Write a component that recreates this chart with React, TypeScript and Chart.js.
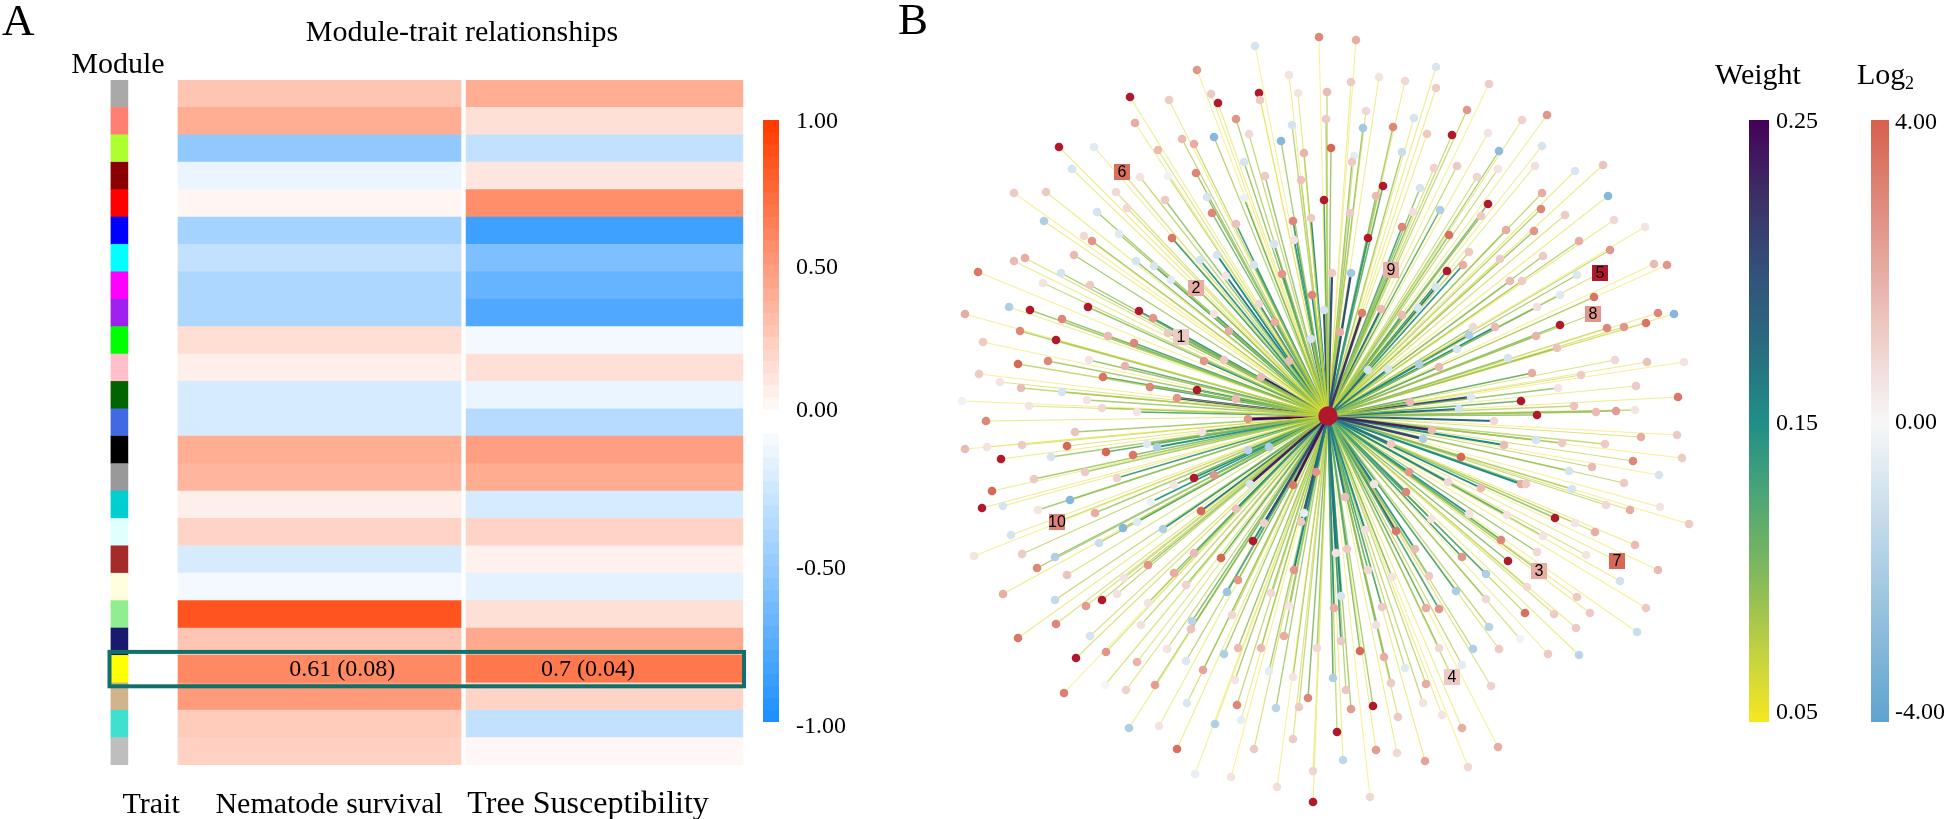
import React, { useEffect, useRef } from "react";
import { Chart, registerables } from "chart.js";

Chart.register(...registerables);

const SERIF = '"Liberation Serif", "Times New Roman", serif';
const SANS = '"Liberation Sans", Arial, sans-serif';

// ---------- Panel A data ----------
const modules = ["darkgrey", "salmon", "greenyellow", "darkred", "red", "blue", "cyan", "magenta", "purple", "green", "pink", "darkgreen", "royalblue", "black", "grey60", "darkturquoise", "lightcyan", "brown", "lightyellow", "lightgreen", "midnightblue", "yellow", "tan", "turquoise", "grey"];
const moduleColors = ["#a9a9a9", "#ff8072", "#adff2f", "#8b0000", "#ff0000", "#0000ff", "#00ffff", "#ff00ff", "#a020f0", "#00ff00", "#ffc0cb", "#006400", "#4169e1", "#000000", "#999999", "#00ced1", "#e0ffff", "#a52a2a", "#ffffe0", "#90ee90", "#191970", "#ffff00", "#d2b48c", "#40e0d0", "#bebebe"];
const nematodeSurvival = [0.3, 0.42, -0.49, -0.09, 0.05, -0.4, -0.27, -0.36, -0.36, 0.17, 0.08, -0.18, -0.18, 0.42, 0.38, 0.08, 0.22, -0.18, -0.05, 0.88, 0.3, 0.61, 0.52, 0.27, 0.23];
const treeSusceptibility = [0.42, 0.16, -0.27, 0.13, 0.58, -0.86, -0.58, -0.68, -0.78, -0.05, 0.16, -0.09, -0.32, 0.5, 0.43, -0.18, 0.22, 0.07, -0.12, 0.16, 0.44, 0.7, 0.22, -0.27, 0.04];
const traitLabels = ["Trait", "Nematode survival", "Tree Susceptibility"];
const highlightedModule = "yellow";
const highlightedTexts = ["0.61 (0.08)", "0.7 (0.04)"];
const corrTicks = ["1.00", "0.50", "0.00", "-0.50", "-1.00"];
const weightTicks = ["0.25", "0.15", "0.05"];
const logTicks = ["4.00", "0.00", "-4.00"];

// ---------- Panel B data: [x, y, log2, weight] in layout units, hub at 0,0 ----------
const nodesWest: number[][] = [
  [-269,-269,6,.06],[-314,-223,1.2,.055],[-282,-224,1.2,.06],[-284,-195,-1.9,.06],[-303,-158,2,.07],[-314,-155,1.6,.06],
  [-350,-144,3.4,.055],[-267,-143,-.9,.09],[-285,-133,.5,.08],[-319,-109,-1.9,.06],[-298,-106,6,.09],[-266,-97,3,.095],
  [-363,-102,2,.055],[-308,-85,3,.085],[-272,-76,6,.09],[-345,-74,1.2,.055],[-280,-55,3,.09],[-310,-52,3.8,.08],
  [-349,-42,1.2,.055],[-328,-34,.5,.07],[-307,-28,1.6,.08],[-266,-24,-.9,.09],[-366,-15,-.2,.055],[-299,-10,.5,.07],
  [-342,5,3,.065],[-306,29,1.2,.07],[-341,31,.5,.06],[-363,33,1.6,.055],[-261,30,3.8,.07],[-277,41,-.9,.09],
  [-327,43,6,.06],[-294,63,1.2,.09],[-336,75,3.8,.06],[-346,92,6,.06],[-325,90,-.9,.06],[-290,94,.5,.09],
  [-258,84,-3,.09],[-317,119,-.9,.06],[-354,140,.5,.055],[-306,138,1.2,.08],[-273,141,-1.9,.095],[-291,152,3,.09],
  [-261,159,1.4,.07],[-325,178,2,.06],[-273,184,-1.4,.08],[-272,208,3,.07],[-310,222,3.4,.06],
];
const nodesNorthWest: number[][] = [
  [-256,-247,-.9,.06],[-234,-269,-.6,.06],[-198,-319,6,.06],[-193,-293,2,.06],[-159,-316,1.2,.06],[-170,-266,1.6,.07],
  [-146,-277,1.6,.08],[-134,-272,2,.08],[-131,-346,2.6,.055],[-117,-322,1.2,.06],[-110,-313,6,.06],[-114,-279,-3,.085],
  [-132,-243,3,.095],[-92,-297,2.6,.085],[-73,-370,-.9,.055],[-69,-323,6,.06],[-68,-316,1.2,.06],[-79,-282,.8,.08],
  [-47,-275,-3,.09],[-39,-341,.5,.06],[-30,-323,.5,.065],[-36,-291,-.9,.085],[-24,-263,1.8,.09],[-9,-379,3,.055],
  [-1,-324,1.6,.08],[-2,-297,1.2,.085],[3,-268,3.8,.095],[-4,-216,6,.12],[-27,-236,1.4,.09],[-63,-240,1.2,.095],
  [-84,-254,-.9,.095],[-84,-218,-.3,.11],[-121,-219,-.9,.1],[-116,-203,3,.105],[-92,-192,1.4,.13],[-35,-195,3,.13],
  [-17,-198,1.2,.15],[-34,-176,.5,.15],[-54,-172,-.9,.12],[-188,-239,.5,.08],[-160,-240,-.2,.08],[-212,-224,.8,.07],
  [-201,-208,.8,.07],[-163,-216,1.2,.095],[-231,-204,-.9,.09],[-209,-182,-.6,.09],[-244,-180,.8,.06],[-236,-175,2.6,.095],
  [-156,-178,3.4,.14],[-254,-161,1.6,.09],[-192,-155,-.9,.1],[-174,-150,-.9,.12],[-128,-156,-.9,.14],[-111,-161,-.9,.15],
  [-74,-151,-.9,.14],[-102,-140,.5,.16],[-46,-142,2.6,.15],[-157,-136,-.6,.1],[4,-143,1.2,.2],[23,-143,-2.2,.2],
  [-238,-131,1.2,.095],[-16,-121,3,.15],[-240,-109,6,.095],[-189,-105,6,.14],[-175,-98,2.6,.12],[-4,-106,-.9,.2],
  [34,-103,3.2,.22],[-69,-112,.8,.165],[-114,-102,.5,.14],[-53,-94,2,.14],[-99,-85,2,.12],[12,-84,2,.1],
  [-17,-77,-.9,.17],[-220,-80,1.6,.1],[-160,-83,1.2,.11],
];
const nodesInnerWest: number[][] = [
  [-194,-73,3,.12],[-239,-56,.5,.095],[-203,-50,1.8,.11],[-225,-39,3.5,.12],[-178,-29,3,.13],[-131,-26,6,.15],
  [-151,-18,2.6,.2],[-124,-55,2.6,.15],[-104,-56,1.2,.13],[-67,-39,1.6,.24],[-92,-17,1.6,.15],[-39,-55,1.6,.17],
  [40,-46,-.9,.17],[-241,-16,.5,.09],[-226,-8,.8,.095],[-191,-4,.5,.12],[-80,3,2.6,.25],[-253,16,1.4,.09],
  [-126,16,.5,.16],[-181,28,-.6,.11],[-171,31,-1.9,.14],[-80,34,-1.6,.13],[-59,31,-1.9,.11],[-222,36,3.8,.11],
  [-195,39,3.4,.1],[-243,56,1.2,.09],[-211,62,1,.13],[-134,62,6,.15],[-114,59,2.6,.15],[-154,69,.5,.11],
  [-78,68,-.9,.23],[-12,56,2.6,.16],[-35,69,3.4,.24],[17,81,1.5,.165],[-177,86,-.3,.14],[-233,97,2,.09],
  [-92,93,1.4,.14],[-127,95,3.8,.165],[-24,97,-.5,.19],[-27,106,1.2,.165],[-64,107,1,.2],[37,114,.6,.15],
  [-191,106,-.6,.12],[-205,112,-3,.095],[-165,113,-1.9,.14],[-229,127,-1.2,.09],[-75,125,6,.15],[-134,137,1.6,.12],
  [-107,142,3.8,.11],[8,137,.5,.17],[19,133,1.2,.12],[-180,149,2.6,.095],[-154,157,2,.1],[-34,154,2.6,.155],
  [40,154,.8,.11],[-204,162,.5,.08],[-142,169,1,.09],[-90,164,2.6,.1],[-101,176,-2.4,.12],[-57,177,.8,.09],
  [13,180,-.9,.155],[-226,184,6,.08],[-211,178,.6,.08],[-242,190,2.4,.07],[-180,187,.5,.09],[-39,190,.5,.09],
  [6,192,2,.14],[-96,199,.8,.08],[-136,205,-1.6,.1],[-137,213,1.4,.1],[-187,209,.6,.08],[-238,220,-.9,.07],
  [-44,220,2,.09],[13,225,1.2,.13],[-222,236,2.6,.07],[-161,233,.5,.08],[-90,232,1.6,.095],[-67,232,1.6,.09],
  [-11,232,.8,.09],[32,235,3.8,.1],[-104,238,-1.9,.09],[-252,242,6,.07],
];
const nodesSouth: number[][] = [
  [-264,277,3.2,.055],[-191,246,1.8,.07],[-142,245,-.7,.085],[-125,254,2.2,.09],[-223,269,-.1,.07],[-202,274,1,.07],
  [-173,269,2.4,.085],[-199,312,-1.9,.06],[-169,310,.5,.06],[-141,287,-.8,.075],[-113,308,-1.9,.06],[-151,333,3.6,.06],
  [-133,358,-.4,.055],[-97,361,.5,.055],[-93,264,.5,.09],[-91,289,3,.08],[-87,304,-.4,.06],[-74,333,1.2,.07],
  [-59,255,-.5,.09],[-52,292,-1.6,.09],[-51,371,.7,.055],[-35,261,.5,.09],[-29,291,1.2,.08],[-35,323,1.2,.07],
  [-20,282,3,.1],[-15,355,.9,.06],[-15,386,6,.06],[5,262,-1.9,.11],[9,316,6,.08],[15,344,-1.5,.06],
  [18,274,1.3,.085],[23,293,2.4,.09],[42,381,.8,.055],[45,290,6,.09],[48,334,2.4,.06],[56,241,2,.095],
  [63,267,1.2,.09],[54,191,1.2,.12],[48,209,.6,.1],[64,161,.5,.1],[70,301,1.2,.07],[69,337,.8,.06],
  [77,252,-.6,.08],[95,287,.5,.08],[97,345,2.2,.06],[98,268,2,.08],[111,232,.8,.09],[114,299,.5,.06],
  [98,192,2,.11],[111,193,2.6,.12],[101,160,1.2,.095],[128,175,-2,.12],[158,158,-1.9,.12],[158,183,.8,.09],
  [161,211,-1.7,.08],[145,233,-1.9,.08],[134,249,-.5,.08],[171,233,1.2,.07],[163,270,1,.07],[134,312,2,.06],
  [140,351,.8,.055],[170,331,2,.055],
];
const nodesSouthEast: number[][] = [
  [208,-80,1.8,.09],[229,-68,1.4,.09],[287,-56,.8,.07],[319,-54,1.4,.06],[253,-41,1.2,.07],[204,-43,2,.11],
  [180,-58,-.9,.095],[230,-28,.5,.095],[308,-30,1.2,.06],[193,-15,6,.11],[143,-19,-.6,.2],[129,-67,-.9,.095],
  [111,-49,1.6,.11],[91,-52,-1.9,.155],[60,-47,-.9,.16],[82,-14,1.6,.16],[131,-7,-.9,.17],[209,-1,6,.095],
  [246,-10,1.4,.08],[268,-4,1.6,.09],[288,-5,2.4,.09],[307,-6,.5,.08],[166,5,.8,.18],[104,14,1.6,.23],
  [95,23,-1.9,.21],[63,28,1.2,.17],[208,24,-.9,.09],[234,27,1.2,.09],[277,28,1.2,.08],[313,21,2,.07],
  [176,29,1.6,.155],[133,41,3.8,.1],[305,45,3,.075],[241,55,-.9,.09],[264,51,1.6,.08],[296,67,1.2,.08],
  [331,59,-.9,.055],[81,56,2.6,.14],[46,68,.5,.16],[78,76,3,.14],[120,66,.8,.155],[153,72,1.6,.15],
  [193,68,2,.15],[198,68,1.2,.095],[244,73,-.9,.085],[278,89,.8,.08],[302,94,2,.07],[332,91,.5,.055],
  [141,98,.5,.14],[179,99,.5,.11],[227,102,6,.095],[247,107,.5,.08],[267,116,2,.075],[103,103,.5,.12],
  [68,115,3.4,.2],[87,133,1.6,.14],[173,124,3,.11],[215,120,.5,.09],[307,129,1.6,.06],[209,136,.8,.095],
  [134,141,2.6,.13],[180,145,6,.1],[258,139,.5,.07],[330,154,1.6,.055],[292,165,-1,.06],[199,171,.8,.08],
  [249,181,1.2,.06],[226,198,1.2,.07],[262,197,1.2,.06],[197,197,3.6,.08],[318,192,1.2,.055],[248,212,1.2,.06],
  [309,216,-1.2,.055],[192,223,-.2,.07],[220,238,1.2,.06],[251,239,-1.6,.06],
];
const nodesNorthEast: number[][] = [
  [28,-376,2,.055],[23,-334,1.2,.06],[38,-305,.8,.07],[35,-288,-2.2,.095],[26,-260,-.5,.07],[24,-254,1.2,.095],
  [22,-203,1.2,.095],[40,-178,6,.14],[139,-306,2.6,.08],[65,-289,3,.09],[86,-298,-.9,.06],[99,-282,1.2,.06],
  [124,-281,6,.08],[194,-296,1,.065],[219,-301,2.6,.06],[160,-283,.5,.06],[171,-265,-2.8,.09],[214,-270,-.9,.06],
  [74,-264,-1.2,.09],[55,-230,6,.11],[48,-220,1.6,.1],[92,-228,-.9,.095],[106,-248,1,.07],[129,-250,1.2,.08],
  [149,-239,.9,.075],[170,-247,.5,.08],[207,-250,.6,.065],[247,-245,-.8,.06],[275,-251,1.4,.06],[112,-206,-1.9,.11],
  [85,-204,.6,.1],[160,-212,6,.1],[153,-200,1.2,.095],[214,-223,2,.08],[213,-207,3,.085],[280,-220,-3,.06],
  [237,-201,1.2,.07],[286,-196,.8,.06],[317,-189,.5,.055],[74,-189,3,.12],[121,-181,3.6,.095],[178,-186,2,.095],
  [206,-185,2.6,.095],[251,-175,2,.085],[282,-166,2.6,.08],[141,-164,1.2,.08],[172,-157,1.2,.07],[215,-160,1.2,.09],
  [135,-151,2,.14],[119,-145,6,.15],[182,-135,1.6,.1],[194,-135,1.2,.075],[249,-141,-.7,.09],[326,-152,1.6,.055],
  [108,-129,-.9,.165],[232,-121,-.6,.095],[266,-119,3.5,.09],[209,-109,.6,.1],[53,-107,1.6,.17],[74,-101,1.6,.15],
  [90,-108,-.9,.16],[232,-91,6,.095],[330,-103,3,.06],[318,-93,3.5,.07],[296,-89,2.6,.075],[279,-88,3,.08],
  [145,-89,.8,.095],[167,-89,1.6,.15],[141,-81,-1.9,.155],[339,-151,2.6,.055],[346,-102,-3,.06],[356,-54,.5,.055],
  [350,-19,3.4,.06],[349,19,1.2,.055],[354,42,1.2,.055],[361,108,1.2,.055],[51,-339,.5,.06],[77,-335,.8,.06],
  [108,-349,-.8,.06],[108,-328,1.1,.06],[161,-332,1.1,.055],
];
const labelledNodes: number[][] = [
  [-147,-79,1.2,.13],[-132,-128,2,.11],[211,155,2,.095],[124,261,1.2,.08],[272,-143,6,.07],
  [-206,-244,3.6,.07],[289,145,3.8,.06],[265,-102,2.6,.08],[63,-146,1.9,.14],[-271,106,3.1,.08],
];
const labelledNames = ["1", "2", "3", "4", "5", "6", "7", "8", "9", "10"];
const hubNode = [0, 0];

const allNodes = [...nodesWest, ...nodesNorthWest, ...nodesInnerWest, ...nodesSouth, ...nodesSouthEast, ...nodesNorthEast];

// ---------- colour helpers ----------
const corrColor = (v: number) => {
  const a = Math.abs(v);
  if (a < 0.001) return "#ffffff";
  const c = v > 0
    ? [255, 255 - 194 * a, 255 - 255 * a]
    : [255 - 225 * a, 255 - 111 * a, 255];
  return `rgb(${c.map(Math.round).join(",")})`;
};
const mix = (a: number[], b: number[], t: number) => a.map((x, i) => x + (b[i] - x) * t);
const HOT = [214, 96, 77], MID = [247, 247, 247], COLD = [95, 163, 207];
const logColor = (v: number) => {
  if (v > 4) return "#b2182b";
  const c = v >= 0 ? mix(MID, HOT, v / 4) : mix(MID, COLD, -v / 4);
  return `rgb(${c.map(Math.round).join(",")})`;
};
const weightStops: [number, number[]][] = [
  [0.05, [247, 231, 33]], [0.07, [201, 212, 60]], [0.1, [128, 184, 93]], [0.125, [77, 165, 119]],
  [0.15, [31, 142, 135]], [0.175, [42, 107, 128]], [0.2, [51, 80, 122]], [0.225, [61, 47, 102]], [0.25, [68, 1, 90]],
];
const weightRgb = (w: number) => {
  for (let i = 1; i < weightStops.length; i++) {
    if (w <= weightStops[i][0]) {
      const [a, ca] = weightStops[i - 1], [b, cb] = weightStops[i];
      return mix(ca, cb, Math.max(0, (w - a) / (b - a))).map(Math.round);
    }
  }
  return weightStops[weightStops.length - 1][1];
};

// ---------- shared bits ----------
type TextItem = { text: string; x: number; y: number; size: number; align?: CanvasTextAlign; family?: string };
const textPlugin = (items: TextItem[]) => ({
  id: "pageText",
  afterDraw(chart: any) {
    const { ctx } = chart;
    ctx.save();
    ctx.fillStyle = "#000";
    ctx.textBaseline = "alphabetic";
    items.forEach((t) => {
      ctx.font = `${t.size}px ${t.family || SERIF}`;
      ctx.textAlign = t.align || "left";
      ctx.fillText(t.text, t.x, t.y);
    });
    ctx.restore();
  },
});
const baseOptions = {
  responsive: false,
  animation: false,
  devicePixelRatio: 1,
};
const quietPlugins = { legend: { display: false }, tooltip: { enabled: false }, title: { display: false } };

function ChartCanvas({ left, top, width, height, make }: any) {
  const ref = useRef<HTMLCanvasElement>(null);
  useEffect(() => {
    const chart = new Chart(ref.current as any, make());
    return () => chart.destroy();
  }, []);
  return <canvas ref={ref} width={width} height={height} style={{ position: "absolute", left, top, width, height }} />;
}

// ---------- Panel A heat map ----------
const PX_PER_CELL = 283;
const COL1 = [0, 1];
const COL2 = [1.018, 1.996];
const STRIP = [-0.237, -0.177];
const TRAIT_TICKS = [-0.095, 0.534, 1.449];
const CELL_TEXT_X = [0.58, 1.449];

const makeHeat = () => ({
  type: "bar",
  data: {
    labels: modules,
    datasets: [
      { label: "Module", data: modules.map(() => STRIP), backgroundColor: moduleColors },
      { label: traitLabels[1], data: modules.map(() => COL1), backgroundColor: nematodeSurvival.map(corrColor) },
      { label: traitLabels[2], data: modules.map(() => COL2), backgroundColor: treeSusceptibility.map(corrColor) },
    ],
  },
  options: {
    ...baseOptions,
    indexAxis: "y",
    layout: { padding: { left: 107, right: 24, top: 80, bottom: 0 } },
    datasets: { bar: { grouped: false, barPercentage: 1, categoryPercentage: 1, borderWidth: 0 } },
    scales: {
      x: {
        type: "linear",
        min: -71 / PX_PER_CELL,
        max: (746 - 178) / PX_PER_CELL,
        grid: { display: false, drawTicks: false },
        border: { display: false },
        afterFit: (s: any) => { s.height = 54; },
        afterBuildTicks: (s: any) => { s.ticks = TRAIT_TICKS.map((value) => ({ value })); },
        ticks: {
          autoSkip: false, maxRotation: 0, padding: 22, color: "#000",
          font: (ctx: any) => ctx.index === 2
            ? { family: SERIF, size: 32, lineHeight: 36 / 32 }
            : { family: SERIF, size: 30, lineHeight: 36 / 30 },
          callback: (_: any, i: number) => traitLabels[i],
        },
      },
      y: { type: "category", display: false },
    },
    plugins: quietPlugins,
  },
  plugins: [
    textPlugin([
      { text: "A", x: 2, y: 35, size: 45 },
      { text: "Module-trait relationships", x: 462, y: 41, size: 30, align: "center" },
      { text: "Module", x: 118, y: 73, size: 30, align: "center" },
    ]),
    {
      id: "highlight",
      afterDatasetsDraw(chart: any) {
        const { ctx, scales } = chart;
        const rowY = scales.y.getPixelForValue(modules.indexOf(highlightedModule));
        const half = 27.4 / 2 + 3.5;
        ctx.save();
        ctx.strokeStyle = "#11706a";
        ctx.lineWidth = 4;
        ctx.strokeRect(109.5, rowY - half, 744 - 109.5, half * 2);
        ctx.fillStyle = "#000";
        ctx.font = `24px ${SERIF}`;
        ctx.textAlign = "center";
        ctx.textBaseline = "middle";
        highlightedTexts.forEach((t, i) => ctx.fillText(t, scales.x.getPixelForValue(CELL_TEXT_X[i]), rowY + 1));
        ctx.restore();
      },
    },
  ],
});

// ---------- colour bars ----------
const axisFor = (ticks: number[], labels: string[], width: number, gap: number, min: number, max: number) => ({
  type: "linear",
  position: "right",
  min,
  max,
  grid: { display: false, drawTicks: false },
  border: { display: false },
  afterFit: (s: any) => { s.width = width; },
  afterBuildTicks: (s: any) => { s.ticks = ticks.map((value) => ({ value })); },
  ticks: {
    autoSkip: false, padding: gap, color: "#000",
    font: { family: SERIF, size: 24 },
    callback: (_: any, i: number) => labels[i],
  },
});

const CORR_TICK_AT = [0.995, 0.51, 0.033, -0.49, -1.017];
const corrLevels: number[] = [];
for (let i = 0; i < 50; i++) corrLevels.push(i);

const makeCorrBar = () => ({
  type: "bar",
  data: {
    labels: ["correlation"],
    datasets: corrLevels.map((i) => {
      const v = i < 25 ? (24 - i) / 24 : -(i - 25) / 24;
      return { label: `l${i}`, data: [[1 - i * 0.04, 1 - (i + 1) * 0.04]], backgroundColor: corrColor(v) };
    }),
  },
  options: {
    ...baseOptions,
    layout: { padding: { left: 8, right: 0, top: 80, bottom: 97 } },
    datasets: { bar: { grouped: false, barPercentage: 1, categoryPercentage: 1, borderWidth: 0 } },
    scales: {
      x: { display: false },
      y: axisFor(CORR_TICK_AT, corrTicks, 81, 17, -1, 1),
    },
    plugins: quietPlugins,
  },
});

const gradientBar = (stops: [number, string][], min: number, max: number) => (ctx: any) => {
  const area = ctx.chart.chartArea;
  if (!area) return "#fff";
  const g = ctx.chart.ctx.createLinearGradient(0, area.bottom, 0, area.top);
  stops.forEach(([v, c]) => g.addColorStop((v - min) / (max - min), c));
  return g;
};

const makeWeightBar = () => ({
  type: "bar",
  data: {
    labels: ["Weight"],
    datasets: [{
      data: [[0.05, 0.25]],
      backgroundColor: gradientBar(weightStops.map(([v, c]) => [v, `rgb(${c.join(",")})`] as [number, string]), 0.05, 0.25),
    }],
  },
  options: {
    ...baseOptions,
    layout: { padding: { left: 49, right: 0, top: 80, bottom: 97 } },
    datasets: { bar: { barPercentage: 1, categoryPercentage: 1, borderWidth: 0 } },
    scales: {
      x: { display: false },
      y: axisFor([0.2493, 0.149, 0.053], weightTicks, 61, 7, 0.05, 0.25),
    },
    plugins: quietPlugins,
  },
  plugins: [textPlugin([{ text: "Weight", x: 15, y: 43.5, size: 30 }])],
});

const makeLogBar = () => ({
  type: "bar",
  data: {
    labels: ["Log2"],
    datasets: [{
      data: [[-4, 4]],
      backgroundColor: gradientBar([[-4, logColor(-4)], [0, logColor(0)], [4, logColor(4)]], -4, 4),
    }],
  },
  options: {
    ...baseOptions,
    layout: { padding: { left: 21, right: 0, top: 80, bottom: 97 } },
    datasets: { bar: { barPercentage: 1, categoryPercentage: 1, borderWidth: 0 } },
    scales: {
      x: { display: false },
      y: axisFor([3.97, -0.02, -3.88], logTicks, 57, 6, -4, 4),
    },
    plugins: quietPlugins,
  },
  plugins: [textPlugin([
    { text: "Log", x: 7, y: 43.5, size: 30 },
    { text: "2", x: 55, y: 49, size: 18 },
  ])],
});

// ---------- Panel B network ----------
const edgeDataset = (n: number[]) => {
  const w = n[3];
  const alpha = Math.min(1, 0.45 + (w - 0.05) * 9);
  return {
    type: "scatter",
    showLine: true,
    data: [{ x: hubNode[0], y: hubNode[1] }, { x: n[0], y: n[1] }],
    borderColor: `rgba(${weightRgb(w).join(",")},${alpha})`,
    borderWidth: 1 + (w - 0.05) * 9,
    pointRadius: 0,
    order: 1,
  };
};

const makeNetwork = () => {
  const everyNode = [...allNodes, ...labelledNodes];
  return {
    type: "scatter",
    data: {
      datasets: [
        ...everyNode.map(edgeDataset),
        {
          label: "nodes",
          data: allNodes.map((n) => ({ x: n[0], y: n[1] })),
          backgroundColor: allNodes.map((n) => logColor(n[2])),
          pointRadius: 4.3,
          borderWidth: 0,
          order: 0,
        },
        {
          label: "labelled",
          data: labelledNodes.map((n) => ({ x: n[0], y: n[1] })),
          backgroundColor: labelledNodes.map((n) => logColor(n[2])),
          pointStyle: "rect",
          pointRadius: 11.3,
          borderWidth: 0,
          order: -1,
        },
        {
          label: "hub",
          data: [{ x: hubNode[0], y: hubNode[1] }],
          backgroundColor: "#b2182b",
          pointRadius: 9.7,
          borderWidth: 0,
          order: -2,
        },
      ],
    },
    options: {
      ...baseOptions,
      layout: { padding: 0, autoPadding: false },
      scales: {
        x: { type: "linear", display: false, min: -448, max: 382 },
        y: { type: "linear", display: false, min: -416, max: 403, reverse: true },
      },
      plugins: quietPlugins,
    },
    plugins: [
      textPlugin([{ text: "B", x: 18, y: 34, size: 45 }]),
      {
        id: "nodeNames",
        afterDatasetsDraw(chart: any) {
          const { ctx, scales } = chart;
          ctx.save();
          ctx.fillStyle = "#000";
          ctx.font = `16px ${SANS}`;
          ctx.textAlign = "center";
          ctx.textBaseline = "middle";
          labelledNodes.forEach((n, i) => {
            ctx.fillText(labelledNames[i], scales.x.getPixelForValue(n[0]), scales.y.getPixelForValue(n[1]) + 0.5);
          });
          ctx.restore();
        },
      },
    ],
  };
};

export default function App() {
  return (
    <div style={{ position: "absolute", left: 0, top: 0, width: 1946, height: 819, overflow: "hidden", background: "#fff" }}>
      <ChartCanvas left={0} top={0} width={770} height={819} make={makeHeat} />
      <ChartCanvas left={755} top={40} width={105} height={779} make={makeCorrBar} />
      <ChartCanvas left={880} top={0} width={830} height={819} make={makeNetwork} />
      <ChartCanvas left={1700} top={40} width={130} height={779} make={makeWeightBar} />
      <ChartCanvas left={1850} top={40} width={96} height={779} make={makeLogBar} />
    </div>
  );
}
